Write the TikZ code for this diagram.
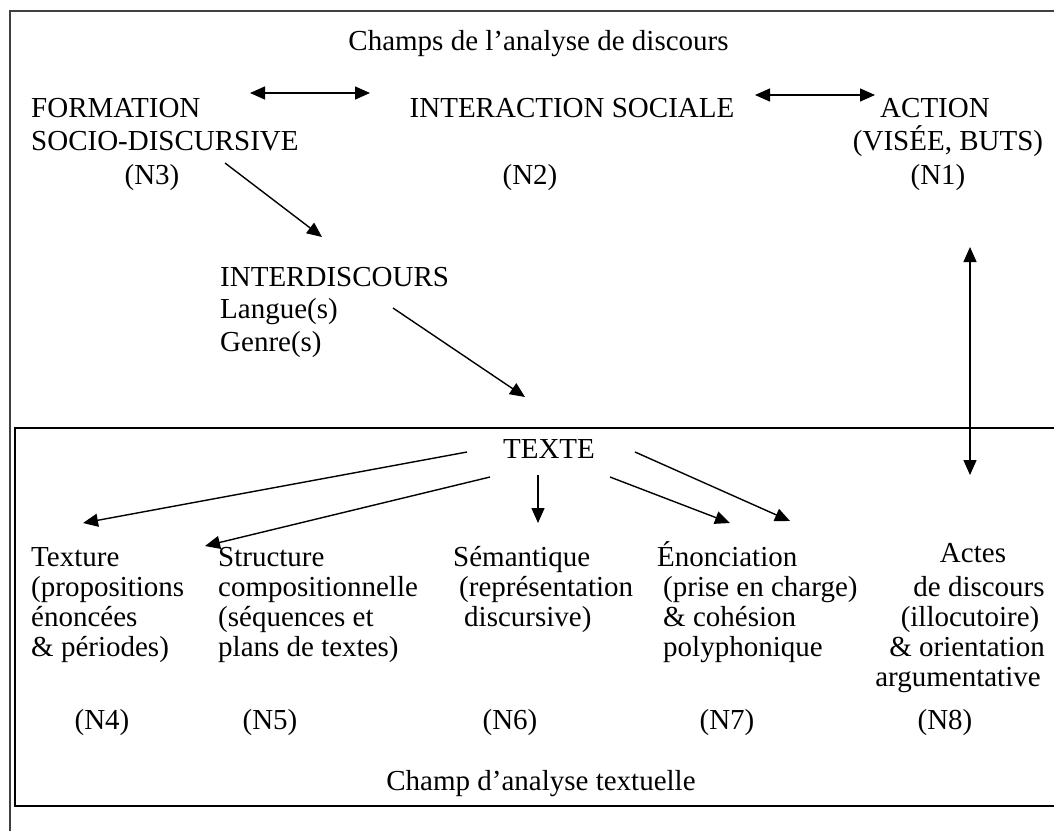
\documentclass[tikz,border=0pt]{standalone}
\usepackage{fontspec}
\setmainfont{Liberation Serif}
\usetikzlibrary{arrows.meta}
\begin{document}
\begin{tikzpicture}[x=1pt,y=-1pt,
  txt/.style={anchor=base,inner sep=0pt,font=\fontsize{29pt}{30pt}\selectfont},
  txl/.style={anchor=base west,inner sep=0pt,font=\fontsize{29pt}{30pt}\selectfont},
  arr/.style={line width=1.4pt,-{Triangle[length=15pt,width=13pt]}},
  darr/.style={line width=1.4pt,{Triangle[length=15pt,width=13pt]}-{Triangle[length=15pt,width=13pt]}},
  outerbox/.style={line width=2pt,draw=black!75},
  innerbox/.style={line width=2.4pt,draw=black}]
\useasboundingbox (0,0) rectangle (1054,831);
% frames
\draw[outerbox] (10,831) -- (10,11) -- (1054,11);
\draw[innerbox] (1054,428) -- (15,428) -- (15,806) -- (1054,806);
% top texts
\node[txt] (title) at (538.5,50) {Champs de l’analyse de discours};
\node[txl] (f1) at (31,117) {FORMATION};
\node[txl] (f2) at (31,150) {SOCIO-DISCURSIVE};
\node[txt] (f3) at (152,184) {(N3)};
\node[txt] (ia) at (572,117) {INTERACTION SOCIALE};
\node[txt] (n2) at (530,184) {(N2)};
\node[txt] (ac1) at (935,117) {ACTION};
\node[txt] (ac2) at (948,150) {(VISÉE, BUTS)};
\node[txt] (ac3) at (938,184) {(N1)};
\node[txl] (id1) at (220,286) {INTERDISCOURS};
\node[txl] (id2) at (220,318) {Langue(s)};
\node[txl] (id3) at (220,351) {Genre(s)};
\node[txt] (tx) at (549,458) {TEXTE};
% bottom columns
\node[txl] (a1) at (31,566) {Texture};
\node[txl] (a2) at (31,596) {(propositions};
\node[txl] (a3) at (31,626) {énoncées};
\node[txl] (a4) at (31,656) {\& périodes)};
\node[txl] (b1) at (218,566) {Structure};
\node[txl] (b2) at (218,596) {compositionnelle};
\node[txl] (b3) at (218,626) {(séquences et};
\node[txl] (b4) at (218,656) {plans de textes)};
\node[txl] (c1) at (453,566) {Sémantique};
\node[txl] (c2) at (459,596) {(représentation};
\node[txl] (c3) at (464,626) {discursive)};
\node[txl] (d1) at (657,566) {Énonciation};
\node[txl] (d2) at (663,596) {(prise en charge)};
\node[txl] (d3) at (663,626) {\& cohésion};
\node[txl] (d4) at (663,656) {polyphonique};
\node[txt] (e1) at (973,562) {Actes};
\node[txt] (e2) at (979,596) {de discours};
\node[txt] (e3) at (970,626) {(illocutoire)};
\node[txt] (e4) at (967,656) {\& orientation};
\node[txt] (e5) at (958,686) {argumentative};
\node[txt] (n4) at (102,729) {(N4)};
\node[txt] (n5) at (270,729) {(N5)};
\node[txt] (n6) at (510,729) {(N6)};
\node[txt] (n7) at (727,729) {(N7)};
\node[txt] (n8) at (945,729) {(N8)};
\node[txt] (champ) at (541,790) {Champ d’analyse textuelle};
% connector end points
\coordinate (h1a) at (250,93);  \coordinate (h1b) at (370,93);
\coordinate (h2a) at (755,95);  \coordinate (h2b) at (875,95);
\coordinate (d1a) at (225,163); \coordinate (d1b) at (322,237);
\coordinate (d2a) at (393,308); \coordinate (d2b) at (525,397);
\coordinate (va) at (970,247);  \coordinate (vb) at (970,475);
\coordinate (t1a) at (467,452); \coordinate (t1b) at (83,523);
\coordinate (t2a) at (490,477); \coordinate (t2b) at (205,546);
\coordinate (t3a) at (538,475); \coordinate (t3b) at (538,523);
\coordinate (t4a) at (610,477); \coordinate (t4b) at (730,523);
\coordinate (t5a) at (635,452); \coordinate (t5b) at (790,521);
% connectors
\draw[darr] (h1a) -- (h1b);
\draw[darr] (h2a) -- (h2b);
\draw[arr] (d1a) -- (d1b);
\draw[arr] (d2a) -- (d2b);
\draw[darr] (va) -- (vb);
\draw[arr] (t1a) -- (t1b);
\draw[arr] (t2a) -- (t2b);
\draw[arr] (t3a) -- (t3b);
\draw[arr] (t4a) -- (t4b);
\draw[arr] (t5a) -- (t5b);
\end{tikzpicture}
\end{document}
